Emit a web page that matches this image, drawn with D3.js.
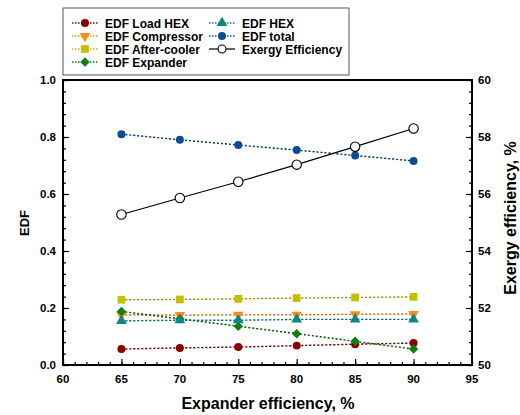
<!DOCTYPE html>
<html>
<head>
<meta charset="utf-8">
<script src="https://cdn.jsdelivr.net/npm/d3@7"></script>
<style>
  body { margin: 0; background: #fff; }
  text { font-family: "Liberation Sans", Arial, sans-serif; font-weight: bold; }
</style>
</head>
<body>
<div id="chart"></div>
<script>
// expander efficiency on the x axis
var effs = [65, 70, 75, 80, 85, 90];

// EDF series (left axis)
var loadHex = [0.056, 0.060, 0.063, 0.068, 0.073, 0.077];
var compressor = [0.176, 0.175, 0.176, 0.176, 0.178, 0.179];
var afterCooler = [0.229, 0.230, 0.232, 0.235, 0.237, 0.239];
var expander = [0.188, 0.162, 0.136, 0.110, 0.083, 0.056];
var hex = [0.155, 0.157, 0.157, 0.160, 0.160, 0.160];
var total = [0.810, 0.790, 0.772, 0.754, 0.735, 0.716];

// exergy efficiency, % (right axis)
var exergy = [55.28, 55.86, 56.43, 57.03, 57.66, 58.30];

var xTicks = [60, 65, 70, 75, 80, 85, 90, 95];
var yTicks = [0, 0.2, 0.4, 0.6, 0.8, 1.0];
var y2Ticks = [50, 52, 54, 56, 58, 60];

var width = 520, height = 415;
var pLeft = 63, pRight = 472, pTop = 80, pBottom = 365;

var svg = d3.select("#chart").append("svg")
  .attr("width", width)
  .attr("height", height);

var x = d3.scaleLinear().domain([60, 95]).range([pLeft, pRight]);
var y = d3.scaleLinear().domain([0, 1]).range([pBottom, pTop]);
var y2 = d3.scaleLinear().domain([50, 60]).range([pBottom, pTop]);

var series = [
  {name: "EDF Load HEX", values: loadHex, color: "#8b0000", shape: "circle"},
  {name: "EDF Compressor", values: compressor, color: "#ff8c1a", shape: "tridown"},
  {name: "EDF After-cooler", values: afterCooler, color: "#c4bf00", shape: "square"},
  {name: "EDF Expander", values: expander, color: "#0f7f0f", shape: "diamond"},
  {name: "EDF HEX", values: hex, color: "#0b8585", shape: "triup"},
  {name: "EDF total", values: total, color: "#0a4c94", shape: "circle"}
];

function symbolFor(shape) {
  if (shape == "circle") return d3.symbol().type(d3.symbolCircle).size(50)();
  if (shape == "square") return d3.symbol().type(d3.symbolSquare).size(60)();
  if (shape == "diamond") return d3.symbol().type(d3.symbolSquare).size(45)();
  return d3.symbol().type(d3.symbolTriangle).size(50)();
}
function rot(shape) {
  if (shape == "tridown") return " rotate(180)";
  if (shape == "diamond") return " rotate(45)";
  return "";
}

// axes, ticks pointing inward
var bottomAxis = d3.axisTop(x).tickValues(xTicks).tickSize(6).tickFormat("");
var bottomMinor = d3.axisTop(x).tickValues(d3.range(60, 96, 1)).tickSize(3).tickFormat("");
var leftAxis = d3.axisRight(y).tickValues(yTicks).tickSize(6).tickFormat("");
var leftMinor = d3.axisRight(y).tickValues(d3.range(0, 1.001, 0.04)).tickSize(3).tickFormat("");
var rightAxis = d3.axisLeft(y2).tickValues(y2Ticks).tickSize(6).tickFormat("");
var rightMinor = d3.axisLeft(y2).tickValues(d3.range(50, 60.01, 0.4)).tickSize(3).tickFormat("");

[[bottomAxis, "translate(0," + pBottom + ")"], [bottomMinor, "translate(0," + pBottom + ")"],
 [leftAxis, "translate(" + pLeft + ",0)"], [leftMinor, "translate(" + pLeft + ",0)"],
 [rightAxis, "translate(" + pRight + ",0)"], [rightMinor, "translate(" + pRight + ",0)"]].forEach(function(a) {
  var g = svg.append("g").attr("transform", a[1]).call(a[0]);
  g.select(".domain").remove();
  g.selectAll("line").attr("stroke", "#000").attr("stroke-width", 1.2);
});

// frame
svg.append("rect")
  .attr("x", pLeft).attr("y", pTop)
  .attr("width", pRight - pLeft).attr("height", pBottom - pTop)
  .attr("fill", "none").attr("stroke", "#000").attr("stroke-width", 2);

// tick labels
svg.selectAll(".xl").data(xTicks).enter().append("text")
  .attr("x", function(d) { return x(d); }).attr("y", 383)
  .attr("text-anchor", "middle").attr("font-size", 11.5)
  .text(function(d) { return d; });
svg.selectAll(".yl").data(yTicks).enter().append("text")
  .attr("x", 56).attr("y", function(d) { return y(d) + 4; })
  .attr("text-anchor", "end").attr("font-size", 11.5)
  .text(function(d) { return d.toFixed(1); });
svg.selectAll(".y2l").data(y2Ticks).enter().append("text")
  .attr("x", 478).attr("y", function(d) { return y2(d) + 4; })
  .attr("text-anchor", "start").attr("font-size", 11.5)
  .text(function(d) { return d; });

// axis titles
svg.append("text").attr("x", 268).attr("y", 409)
  .attr("text-anchor", "middle").attr("font-size", 16)
  .text("Expander efficiency, %");
svg.append("text")
  .attr("transform", "translate(29,223) rotate(-90)")
  .attr("text-anchor", "middle").attr("font-size", 13)
  .text("EDF");
svg.append("text")
  .attr("transform", "translate(516,218) rotate(-90)")
  .attr("text-anchor", "middle").attr("font-size", 16)
  .text("Exergy efficiency, %");

// EDF lines
var line = d3.line()
  .x(function(d, i) { return x(effs[i]); })
  .y(function(d) { return y(d); });

series.forEach(function(s) {
  svg.append("path").datum(s.values)
    .attr("d", line).attr("fill", "none")
    .attr("stroke", s.color).attr("stroke-width", 1.4)
    .attr("stroke-dasharray", "2,2");
  svg.append("path").datum(s.values)
    .attr("d", line).attr("fill", "none")
    .attr("stroke", "#000").attr("stroke-width", 1.2).attr("opacity", 0.6)
    .attr("stroke-dasharray", "1,3");
  svg.selectAll(null).data(s.values).enter().append("path")
    .attr("d", symbolFor(s.shape))
    .attr("transform", function(d, i) {
      return "translate(" + x(effs[i]) + "," + y(d) + ")" + rot(s.shape);
    })
    .attr("fill", s.color);
});

// exergy efficiency line
var line2 = d3.line()
  .x(function(d, i) { return x(effs[i]); })
  .y(function(d) { return y2(d); });
svg.append("path").datum(exergy)
  .attr("d", line2).attr("fill", "none")
  .attr("stroke", "#000").attr("stroke-width", 1.2);
svg.selectAll(".ex").data(exergy).enter().append("circle")
  .attr("cx", function(d, i) { return x(effs[i]); })
  .attr("cy", function(d) { return y2(d); })
  .attr("r", 4.7)
  .attr("fill", "#fff").attr("stroke", "#000").attr("stroke-width", 1.1);

// legend
svg.append("rect").attr("x", 63).attr("y", 8).attr("width", 286).attr("height", 67)
  .attr("fill", "#fff").attr("stroke", "#555").attr("stroke-width", 1);

var legendItems = series.slice(0, 4).map(function(s, i) { return {s: s, lx: 72, ly: 23 + i * 13}; })
  .concat(series.slice(4).map(function(s, i) { return {s: s, lx: 209, ly: 23 + i * 13}; }));

legendItems.forEach(function(it) {
  svg.append("line").attr("x1", it.lx).attr("x2", it.lx + 26)
    .attr("y1", it.ly).attr("y2", it.ly)
    .attr("stroke", it.s.color).attr("stroke-width", 1.3).attr("stroke-dasharray", "1.5,1.5");
  svg.append("path").attr("d", symbolFor(it.s.shape))
    .attr("transform", "translate(" + (it.lx + 13) + "," + it.ly + ")" + rot(it.s.shape))
    .attr("fill", it.s.color);
  svg.append("text").attr("x", it.lx + 33).attr("y", it.ly + 4.5)
    .attr("font-size", 12).text(it.s.name);
});

svg.append("line").attr("x1", 209).attr("x2", 235).attr("y1", 49).attr("y2", 49)
  .attr("stroke", "#000").attr("stroke-width", 1.2);
svg.append("circle").attr("cx", 222).attr("cy", 49).attr("r", 4)
  .attr("fill", "#fff").attr("stroke", "#000").attr("stroke-width", 1.1);
svg.append("text").attr("x", 242).attr("y", 53.5)
  .attr("font-size", 12).text("Exergy Efficiency");
</script>
</body>
</html>
